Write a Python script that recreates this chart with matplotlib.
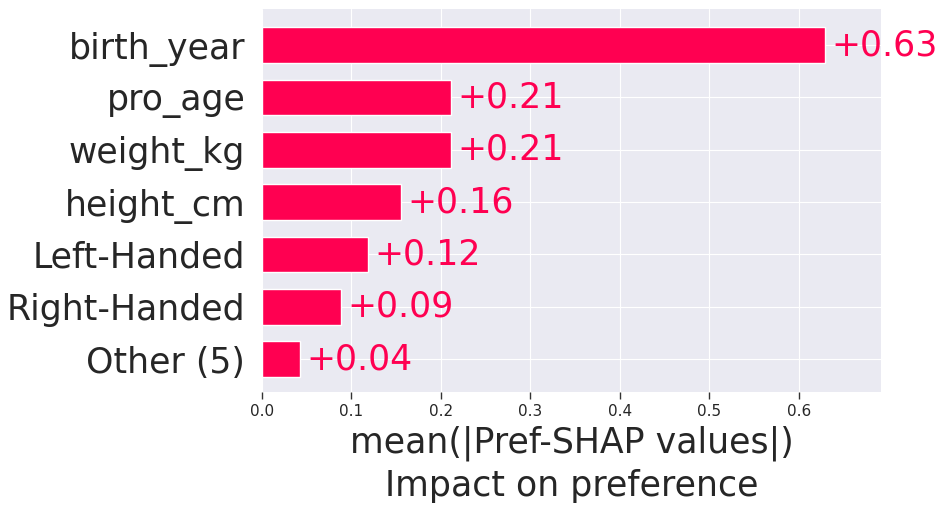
import matplotlib
matplotlib.use("Agg")
import matplotlib.pyplot as plt
import seaborn as sns

features = ["birth_year", "pro_age", "weight_kg", "height_cm",
            "Left-Handed", "Right-Handed", "Other (5)"]
values = [0.629, 0.211, 0.211, 0.155, 0.119, 0.088, 0.0425]
labels = ["+0.63", "+0.21", "+0.21", "+0.16", "+0.12", "+0.09", "+0.04"]

sns.set_style("darkgrid")
plt.rcParams['font.family'] = ['DejaVu Sans']

bar_color = "#ff0051"

fig = plt.figure(figsize=(9.47, 5.13), dpi=100)
ax = fig.add_axes([262 / 947, 1 - 392 / 513, (881 - 262) / 947, (392 - 9) / 513])

# top feature drawn at the top
ypos = list(range(len(features) - 1, -1, -1))
ax.barh(ypos, values, height=0.68, color=bar_color, zorder=3)

for y, v, lab in zip(ypos, values, labels):
    ax.annotate(lab, (v, y), xytext=(4.5, 0), textcoords="offset points",
                va="center", ha="left", fontsize=25, color=bar_color,
                annotation_clip=False, zorder=4)

ax.set_yticks(ypos)
ax.set_yticklabels(features, fontsize=25, color="#262626")
ax.set_ylim(-0.63, len(features) - 1 + 0.69)
ax.set_xlim(0, 0.692)
ax.set_xticks([0.0, 0.1, 0.2, 0.3, 0.4, 0.5, 0.6])
ax.tick_params(axis="x", labelsize=11, bottom=True, length=5, width=1,
               color="#333333", labelcolor="#262626")
ax.tick_params(axis="y", left=False, pad=8.5)
ax.set_xlabel("mean(|Pref-SHAP values|)\nImpact on preference", fontsize=25,
              color="#262626", linespacing=1.3, labelpad=5)

for s in ax.spines.values():
    s.set_visible(False)

fig.savefig("out.png", dpi=100)
